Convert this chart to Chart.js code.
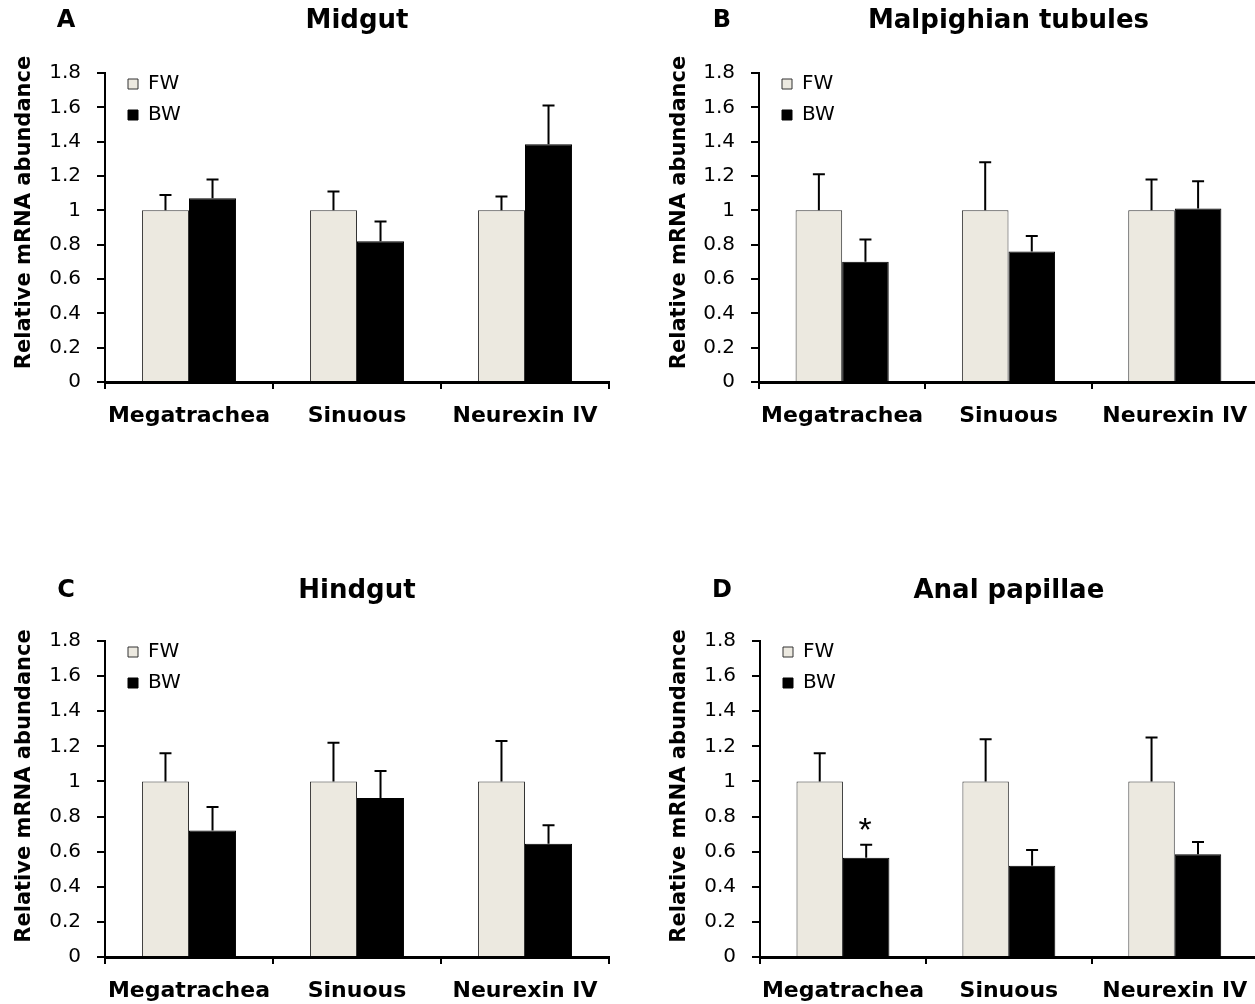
<!DOCTYPE html>
<html>
<head>
<meta charset="utf-8">
<script src="https://cdn.jsdelivr.net/npm/chart.js@4.4.1/dist/chart.umd.min.js"></script>
<style>
  html, body { margin: 0; padding: 0; background: #ffffff; overflow: hidden; width: 1255px; height: 1004px; }
  canvas { position: absolute; }
</style>
</head>
<body>
<canvas id="panelA"></canvas>
<canvas id="panelB"></canvas>
<canvas id="panelC"></canvas>
<canvas id="panelD"></canvas>
<script>
// ---------------- data ----------------
const categories = ['Megatrachea', 'Sinuous', 'Neurexin IV'];
const seriesLabels = ['FW', 'BW'];
const yTicks = [0, 0.2, 0.4, 0.6, 0.8, 1, 1.2, 1.4, 1.6, 1.8];
const yAxisTitle = 'Relative mRNA abundance';
const panelLetters = ['A', 'B', 'C', 'D'];
const panelTitles = ['Midgut', 'Malpighian tubules', 'Hindgut', 'Anal papillae'];

const midgutFW = [1, 1, 1];
const midgutFWErr = [0.09, 0.11, 0.08];
const midgutBW = [1.07, 0.82, 1.385];
const midgutBWErr = [0.11, 0.115, 0.225];
const midgutSig = ['', '', ''];

const malpighianFW = [1, 1, 1];
const malpighianFWErr = [0.21, 0.28, 0.18];
const malpighianBW = [0.70, 0.76, 1.01];
const malpighianBWErr = [0.13, 0.09, 0.16];
const malpighianSig = ['', '', ''];

const hindgutFW = [1, 1, 1];
const hindgutFWErr = [0.16, 0.22, 0.23];
const hindgutBW = [0.72, 0.905, 0.645];
const hindgutBWErr = [0.135, 0.155, 0.105];
const hindgutSig = ['', '', ''];

const analFW = [1, 1, 1];
const analFWErr = [0.16, 0.24, 0.25];
const analBW = [0.565, 0.52, 0.585];
const analBWErr = [0.075, 0.09, 0.07];
const analSig = ['*', '', ''];

// ---------------- styles / layout ----------------
const FW_COLOR = '#ECE9E0';
const BW_COLOR = '#000000';
const FONT = 'DejaVu Sans';

const panels = [
  { id: 'panelA', letter: panelLetters[0], title: panelTitles[0], fw: midgutFW, fwErr: midgutFWErr, bw: midgutBW, bwErr: midgutBWErr, sig: midgutSig,
    x0: 0, y0: 0, w: 625, h: 445, left: 105, top: 73, right: 609, bottom: 382, letterX: 66, letterY: 21, yTitleX: 25, yTitleShift: -15 },
  { id: 'panelB', letter: panelLetters[1], title: panelTitles[1], fw: malpighianFW, fwErr: malpighianFWErr, bw: malpighianBW, bwErr: malpighianBWErr, sig: malpighianSig,
    x0: 630, y0: 0, w: 632, h: 445, left: 129, top: 73, right: 630, bottom: 382, letterX: 92, letterY: 21, yTitleX: 50, yTitleShift: -15 },
  { id: 'panelC', letter: panelLetters[2], title: panelTitles[2], fw: hindgutFW, fwErr: hindgutFWErr, bw: hindgutBW, bwErr: hindgutBWErr, sig: hindgutSig,
    x0: 0, y0: 570, w: 625, h: 434, left: 105, top: 71, right: 609, bottom: 387, letterX: 66, letterY: 21, yTitleX: 25, yTitleShift: -13 },
  { id: 'panelD', letter: panelLetters[3], title: panelTitles[3], fw: analFW, fwErr: analFWErr, bw: analBW, bwErr: analBWErr, sig: analSig,
    x0: 630, y0: 570, w: 632, h: 434, left: 130, top: 71, right: 630, bottom: 387, letterX: 92, letterY: 21, yTitleX: 50, yTitleShift: -13 }
];

Chart.defaults.font.family = FONT;
Chart.defaults.color = '#000';

const decorPlugin = {
  id: 'decor',
  afterLayout(chart, args, opts) {
    const lg = chart.legend;
    if (lg) {
      const w = lg.right - lg.left, h = lg.bottom - lg.top;
      lg.left = chart.chartArea.left + opts.legendDx; lg.right = lg.left + w;
      lg.top = chart.chartArea.top + opts.legendDy; lg.bottom = lg.top + h;
    }
  },
  afterDatasetsDraw(chart, args, opts) {
    const ctx = chart.ctx;
    const yScale = chart.scales.y;
    ctx.save();
    ctx.strokeStyle = '#000';
    ctx.lineWidth = 2;
    chart.data.datasets.forEach((ds, di) => {
      const meta = chart.getDatasetMeta(di);
      meta.data.forEach((bar, i) => {
        const v = ds.data[i];
        const e = ds.errors[i];
        const yTop = yScale.getPixelForValue(v);
        const yCap = yScale.getPixelForValue(v + e);
        ctx.beginPath();
        ctx.moveTo(bar.x, yTop);
        ctx.lineTo(bar.x, yCap);
        ctx.moveTo(bar.x - 6, yCap);
        ctx.lineTo(bar.x + 6, yCap);
        ctx.stroke();
        if (ds.sig && ds.sig[i]) {
          ctx.fillStyle = '#000';
          ctx.font = '34px "Liberation Sans"';
          ctx.textAlign = 'center';
          ctx.textBaseline = 'alphabetic';
          ctx.fillText(ds.sig[i], bar.x - 1, yCap - 4);
        }
      });
    });
    ctx.restore();
  },
  afterDraw(chart, args, opts) {
    const ctx = chart.ctx;
    const area = chart.chartArea;
    ctx.save();
    ctx.fillStyle = '#000';
    ctx.font = 'bold 24px "' + FONT + '"';
    ctx.textAlign = 'center';
    ctx.textBaseline = 'middle';
    ctx.fillText(opts.letter, opts.letterX, opts.letterY);
    // y-axis title
    ctx.translate(opts.yTitleX, (area.top + area.bottom) / 2 + opts.yTitleShift);
    ctx.rotate(-Math.PI / 2);
    ctx.font = 'bold 21px "' + FONT + '"';
    ctx.fillText(yAxisTitle, 0, 0);
    ctx.restore();
  }
};

panels.forEach(p => {
  const cv = document.getElementById(p.id);
  cv.width = p.w; cv.height = p.h;
  cv.style.left = p.x0 + 'px'; cv.style.top = p.y0 + 'px';
  cv.style.width = p.w + 'px'; cv.style.height = p.h + 'px';
  const titleLine = 26 * 1.2;
  const titlePadTop = 5.5;
  new Chart(cv, {
    type: 'bar',
    data: {
      labels: categories,
      datasets: [
        { label: seriesLabels[0], data: p.fw, errors: p.fwErr, backgroundColor: FW_COLOR, borderColor: '#333333', borderWidth: 1 },
        { label: seriesLabels[1], data: p.bw, errors: p.bwErr, sig: p.sig, backgroundColor: BW_COLOR, borderColor: BW_COLOR, borderWidth: 1 }
      ]
    },
    options: {
      responsive: false,
      animation: false,
      devicePixelRatio: 1,
      events: [],
      layout: { padding: { left: 0, top: 0, right: p.w - p.right, bottom: 0 } },
      datasets: { bar: { categoryPercentage: 0.56, barPercentage: 1 } },
      plugins: {
        title: {
          display: true, text: p.title, fullSize: false, color: '#000',
          font: { family: FONT, size: 26, weight: 'bold', lineHeight: 1.2 },
          padding: { top: titlePadTop, bottom: p.top - titlePadTop - titleLine }
        },
        legend: {
          position: 'chartArea', align: 'start',
          labels: { boxWidth: 10, boxHeight: 10, padding: 11, color: '#000', font: { family: FONT, size: 20 } }
        },
        tooltip: { enabled: false },
        decor: { letter: p.letter, letterX: p.letterX, letterY: p.letterY, yTitleX: p.yTitleX, yTitleShift: p.yTitleShift, legendDx: 12, legendDy: -10 }
      },
      scales: {
        x: {
          offset: true,
          grid: { offset: true, drawOnChartArea: false, drawTicks: true, tickLength: 7, color: '#000', lineWidth: 2 },
          border: { display: true, color: '#000', width: 3 },
          ticks: { color: '#000', font: { family: FONT, size: 22, weight: 'bold' }, padding: 14, maxRotation: 0, minRotation: 0, autoSkip: false },
          afterFit: s => { s.height = p.h - p.bottom; }
        },
        y: {
          min: 0, max: 1.8,
          afterBuildTicks: s => { s.ticks = yTicks.map(v => ({ value: v })); },
          ticks: { color: '#000', font: { family: FONT, size: 20 }, padding: 16, callback: v => String(v) },
          grid: { drawOnChartArea: false, drawTicks: true, tickLength: 8, color: '#000', lineWidth: 2 },
          border: { display: true, color: '#000', width: 2 },
          title: { display: false, text: yAxisTitle },
          afterFit: s => { s.width = p.left; }
        }
      }
    },
    plugins: [decorPlugin]
  });
});
</script>
</body>
</html>
